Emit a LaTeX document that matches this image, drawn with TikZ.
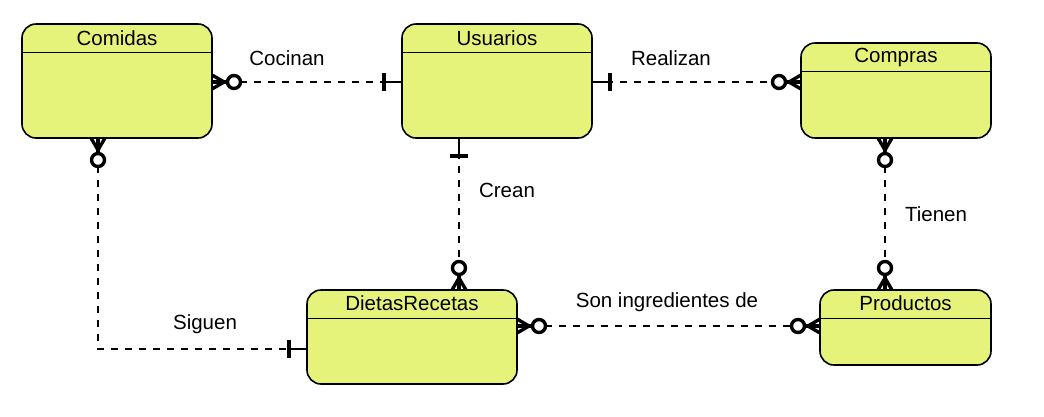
\documentclass[tikz,border=0pt]{standalone}
\usepackage{fontspec}
\setmainfont{Liberation Sans}
\usetikzlibrary{calc}
\definecolor{entfill}{RGB}{230,243,122}
\tikzset{
  entity/.style={draw, line width=1.6pt, fill=entfill, rounded corners=14pt,
    inner sep=0pt, outer sep=0pt},
  headline/.style={line width=1pt},
  title/.style={anchor=center, inner sep=0pt},
  rel/.style={line width=1.8pt, dash pattern=on 7pt off 7pt},
  marker/.style={line width=3.4pt, solid},
  lbl/.style={inner sep=0pt},
  crow/.pic={
    \draw[marker] (0,-7) -- (12,0) -- (0,7);
    \draw[marker] (0,0) -- (16,0);
    \draw[marker, fill=white] (22,0) circle (6.5);
  },
  one/.pic={
    \draw[line width=1.8pt] (0,0) -- (18,0);
    \draw[line width=3.6pt] (18,-9) -- (18,9);
  }
}
\begin{document}
\begin{tikzpicture}[x=1pt, y=-1pt, font=\fontsize{20.5}{24}\selectfont]
\useasboundingbox (0,0) rectangle (1044,416);

% entities
\node[entity, minimum width=190pt, minimum height=114pt] (Comidas) at (117,81) {};
\node[entity, minimum width=190pt, minimum height=114pt] (Usuarios) at (497,81) {};
\node[entity, minimum width=190pt, minimum height=95pt] (Compras) at (896,90.5) {};
\node[entity, minimum width=210pt, minimum height=94pt] (Dietas) at (412,337) {};
\node[entity, minimum width=171pt, minimum height=75pt] (Productos) at (905.5,327.5) {};

\foreach \n in {Comidas,Usuarios,Compras,Dietas,Productos}{
  \draw[headline] ($(\n.north west)+(0,28.5)$) -- ($(\n.north east)+(0,28.5)$);
}

\node[title] (tComidas) at (117,38) {Comidas};
\node[title] (tUsuarios) at (497,38) {Usuarios};
\node[title] (tCompras) at (896,57) {Compras};
\node[title] (tDietas) at (412,303) {DietasRecetas};
\node[title] (tProductos) at (905.5,303) {Productos};

% connection points
\coordinate (cuA) at ([yshift=-1pt]Comidas.east);
\coordinate (cuB) at (Usuarios.west |- cuA);
\coordinate (ucA) at (Usuarios.east |- cuA);
\coordinate (ucB) at (Compras.west |- cuA);
\coordinate (udA) at ([xshift=-38pt]Usuarios.south);
\coordinate (udB) at (Dietas.north -| udA);
\coordinate (cpA) at ([xshift=-11pt]Compras.south);
\coordinate (cpB) at (Productos.north -| cpA);
\coordinate (dpA) at ([yshift=11pt]Dietas.east);
\coordinate (dpB) at (Productos.west |- dpA);
\coordinate (cdA) at ([xshift=-19pt]Comidas.south);
\coordinate (cdB) at ([yshift=-12pt]Dietas.west);

% relationships
\draw[rel] (cuA) -- (cuB);
\draw[rel] (ucA) -- (ucB);
\draw[rel] (udA) -- (udB);
\draw[rel] (cpA) -- (cpB);
\draw[rel] (dpA) -- (dpB);
\draw[rel] (cdA) |- (cdB);

% markers
\pic at (cuA) {crow};
\pic[rotate=180] at (cuB) {one};
\pic at (ucA) {one};
\pic[rotate=180] at (ucB) {crow};
\pic[rotate=-90] at (udA) {one};
\pic[rotate=90] at (udB) {crow};
\pic[rotate=-90] at (cpA) {crow};
\pic[rotate=90] at (cpB) {crow};
\pic at (dpA) {crow};
\pic[rotate=180] at (dpB) {crow};
\pic[rotate=-90] at (cdA) {crow};
\pic[rotate=180] at (cdB) {one};

% labels
\node[lbl] (lCocinan) at (287,58) {Cocinan};
\node[lbl] (lRealizan) at (671,58) {Realizan};
\node[lbl] (lCrean) at (507,190) {Crean};
\node[lbl] (lTienen) at (936,214) {Tienen};
\node[lbl] (lSon) at (667,302) {Son ingredientes de};
\node[lbl] (lSiguen) at (205,324) {Siguen};
\end{tikzpicture}
\end{document}
